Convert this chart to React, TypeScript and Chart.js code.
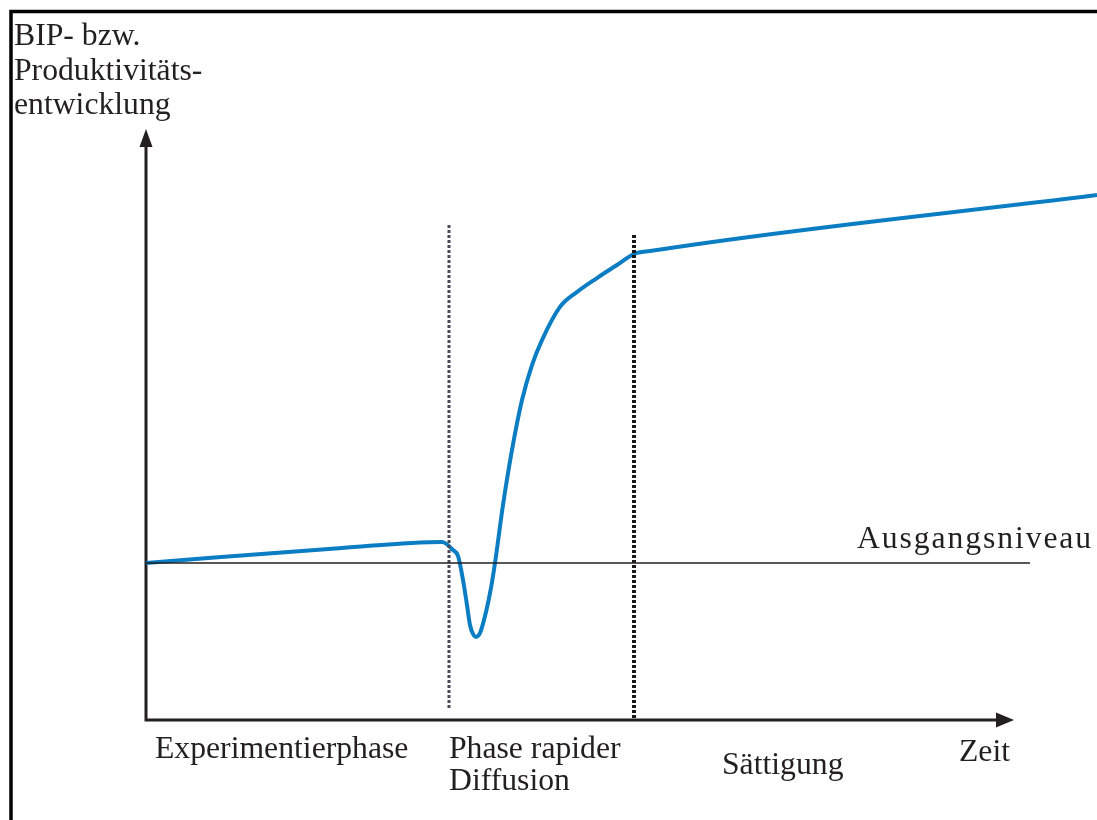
import React, { useEffect, useRef } from "react";
import { Chart, registerables } from "chart.js";

Chart.register(...registerables);

// Time axis (arbitrary units) and level (Ausgangsniveau = 100)
const curveTime = [0, 19.6, 29.6, 30.7, 31.2, 31.7, 32.1, 32.4, 32.7, 33.0, 33.4, 34.0, 34.5, 34.9, 35.7, 36.6, 37.6, 38.6, 39.6, 41.4, 43.1, 45.1, 47.1, 48.8, 50.4, 95.1];
const curveLevel = [100, 109.6, 113.4, 108.3, 104.5, 89.2, 73.2, 60.5, 54.8, 52.9, 55.4, 68.8, 84.1, 100, 136.9, 172.0, 203.8, 226.1, 242.0, 263.1, 272.6, 281.5, 289.8, 296.8, 298.7, 334.4];

const baseTime = [0, 88.4];
const baseLevel = [100, 100];

const phase1Time = [30.3, 30.3];
const phase1Level = [315.3, 6.4];
const phase2Time = [48.8, 48.8];
const phase2Level = [308.9, 0];

const axisXEnd = 86.8;
const axisYEnd = 376.4;

const titleLines = ["BIP- bzw.", "Produktivitäts-", "entwicklung"];
const phaseLabels = ["Experimentierphase", "Phase rapider", "Diffusion", "Sättigung", "Zeit"];
const baseLabel = "Ausgangsniveau";

const xMin = -14.6, xMax = 95.1, yMin = -63.7, yMax = 458.6;

const zip = (a: number[], b: number[]) => a.map((x, i) => ({ x, y: b[i] }));

const INK = "#231f20";
const FONT = "31.7px 'Liberation Serif', 'Times New Roman', serif";

const decorPlugin = {
  id: "decor",
  beforeDatasetsDraw(chart: any) {
    const ctx = chart.ctx as CanvasRenderingContext2D;
    const xs = chart.scales.x, ys = chart.scales.y;
    const ox = xs.getPixelForValue(0), oy = ys.getPixelForValue(0);
    const ex = xs.getPixelForValue(axisXEnd), ey = ys.getPixelForValue(axisYEnd);
    ctx.save();
    // frame
    ctx.strokeStyle = "#000";
    ctx.lineWidth = 3.5;
    ctx.beginPath();
    ctx.moveTo(11, 830);
    ctx.lineTo(11, 11.5);
    ctx.lineTo(1110, 11.5);
    ctx.stroke();
    // axes
    ctx.strokeStyle = INK;
    ctx.fillStyle = INK;
    ctx.lineWidth = 3;
    ctx.beginPath();
    ctx.moveTo(ox, ey + 10);
    ctx.lineTo(ox, oy);
    ctx.lineTo(ex - 10, oy);
    ctx.stroke();
    ctx.beginPath();
    ctx.moveTo(ox, ey);
    ctx.lineTo(ox - 6.5, ey + 18);
    ctx.lineTo(ox + 6.5, ey + 18);
    ctx.closePath();
    ctx.fill();
    ctx.beginPath();
    ctx.moveTo(ex, oy);
    ctx.lineTo(ex - 18, oy - 7.5);
    ctx.lineTo(ex - 18, oy + 7.5);
    ctx.closePath();
    ctx.fill();
    // texts
    ctx.font = FONT;
    ctx.textAlign = "left";
    ctx.textBaseline = "alphabetic";
    ctx.fillText(titleLines[0], 14, 45);
    ctx.fillText(titleLines[1], 14, 80);
    ctx.fillText(titleLines[2], 14, 114);
    ctx.fillText(phaseLabels[0], 155, 758);
    ctx.fillText(phaseLabels[1], 449, 758);
    ctx.fillText(phaseLabels[2], 449, 790);
    ctx.fillText(phaseLabels[3], 722, 774);
    ctx.fillText(phaseLabels[4], 959, 761);
    (ctx as any).letterSpacing = "1.9px";
    ctx.fillText(baseLabel, 857, 548);
    (ctx as any).letterSpacing = "0px";
    ctx.restore();
  },
};

export default function App() {
  const ref = useRef<HTMLCanvasElement>(null);
  useEffect(() => {
    if (!ref.current) return;
    const chart = new Chart(ref.current, {
      type: "line",
      data: {
        datasets: [
          {
            data: zip(baseTime, baseLevel),
            borderColor: INK,
            borderWidth: 1.5,
            pointRadius: 0,
          },
          {
            data: zip(phase1Time, phase1Level),
            borderColor: "#4a4858",
            borderWidth: 3,
            borderDash: [3, 2],
            pointRadius: 0,
          },
          {
            data: zip(phase2Time, phase2Level),
            borderColor: "#1a1818",
            borderWidth: 4,
            borderDash: [3, 2],
            pointRadius: 0,
          },
          {
            data: zip(curveTime, curveLevel),
            borderColor: "#0b7dc3",
            borderWidth: 4,
            pointRadius: 0,
            cubicInterpolationMode: "monotone",
          },
        ],
      },
      options: {
        responsive: false,
        animation: false,
        devicePixelRatio: 1,
        layout: { padding: 0 },
        plugins: { legend: { display: false }, tooltip: { enabled: false } },
        scales: {
          x: { type: "linear", min: xMin, max: xMax, display: false },
          y: { type: "linear", min: yMin, max: yMax, display: false },
        },
      },
      plugins: [decorPlugin],
    } as any);
    return () => chart.destroy();
  }, []);
  return (
    <div style={{ position: "absolute", left: 0, top: 0, width: 1097, height: 820, background: "#fff" }}>
      <canvas ref={ref} width={1097} height={820} />
    </div>
  );
}
